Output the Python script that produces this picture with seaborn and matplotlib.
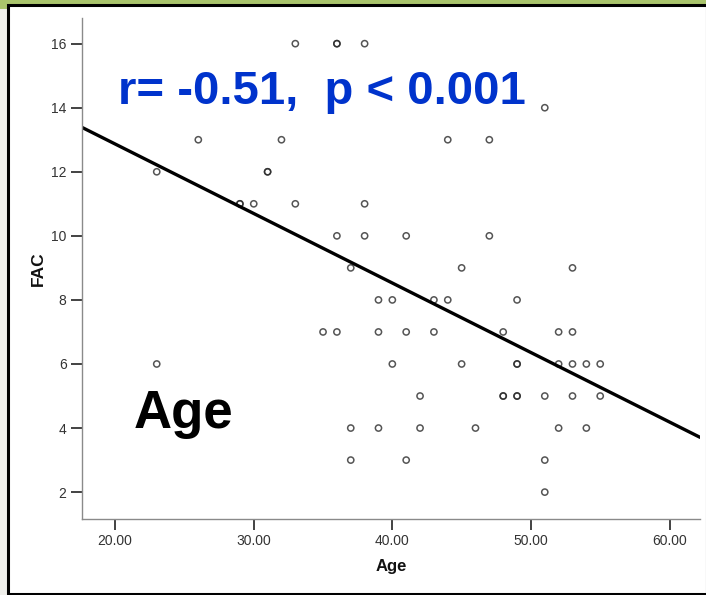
import numpy as np
import pandas as pd
import matplotlib
matplotlib.use("Agg")
import matplotlib.pyplot as plt
from matplotlib.patches import Rectangle
import seaborn as sns

# Age / FAC pairs (rows grouped by FAC value)
age = [33, 36, 36, 38,
       51,
       26, 32, 44, 47,
       23, 31, 31,
       29, 29, 30, 33, 38,
       36, 38, 41, 47,
       37, 45, 53,
       39, 40, 43, 44, 49,
       35, 36, 39, 41, 43, 48, 52, 53,
       23, 40, 45, 49, 49, 52, 53, 54, 55,
       42, 48, 48, 49, 49, 51, 53, 55,
       37, 39, 42, 46, 52, 54,
       37, 41, 51,
       51]
fac = [16, 16, 16, 16,
       14,
       13, 13, 13, 13,
       12, 12, 12,
       11, 11, 11, 11, 11,
       10, 10, 10, 10,
       9, 9, 9,
       8, 8, 8, 8, 8,
       7, 7, 7, 7, 7, 7, 7, 7,
       6, 6, 6, 6, 6, 6, 6, 6, 6,
       5, 5, 5, 5, 5, 5, 5, 5,
       4, 4, 4, 4, 4, 4,
       3, 3, 3,
       2]
x_ticks = [20, 30, 40, 50, 60]
y_ticks = [2, 4, 6, 8, 10, 12, 14, 16]
stat_text = "r= -0.51,  p < 0.001"

df = pd.DataFrame({"Age": age, "FAC": fac})

sns.set_style("white")
plt.rcParams["font.family"] = ["Liberation Sans", "DejaVu Sans"]

fig = plt.figure(figsize=(7.06, 5.95), dpi=100)

# slide decoration: green band on top, grey margin left, black frame
fig.patches.append(Rectangle((0, 0), 1, 1, transform=fig.transFigure,
                             facecolor="#efefeb", edgecolor="none", zorder=-3))
fig.patches.append(Rectangle((0, 0.985), 1, 0.015, transform=fig.transFigure,
                             facecolor="#a9c46c", edgecolor="none", zorder=-2))
fig.patches.append(Rectangle((0.0113, 0.0025), 0.99, 0.9885, transform=fig.transFigure,
                             facecolor="white", edgecolor="black", linewidth=2.2, zorder=-1))

ax = fig.add_axes([0.116, 0.1277, 0.8755, 0.842])
ax.patch.set_alpha(0)
# limits first so the fitted line runs across the whole axis
ax.set_xlim(17.6, 62.2)
ax.set_ylim(1.16, 16.8)

sns.regplot(data=df, x="Age", y="FAC", ax=ax, ci=None, truncate=False,
            scatter_kws=dict(s=20, facecolors="none", edgecolors="#2a2a2a", linewidths=1.1),
            line_kws=dict(color="black", linewidth=2.4))

ax.set_xlim(17.6, 62.2)
ax.set_ylim(1.16, 16.8)
ax.set_xticks(x_ticks)
ax.set_xticklabels([f"{v:.2f}" for v in x_ticks])
ax.set_yticks(y_ticks)

for side in ["top", "right"]:
    ax.spines[side].set_visible(False)
for side in ["left", "bottom"]:
    ax.spines[side].set_color("#8a8a8a")
    ax.spines[side].set_linewidth(1.0)

ax.tick_params(axis="both", which="major", direction="out", length=8, width=1.2,
               color="#222222", labelcolor="#333333", labelsize=10, pad=3,
               left=True, bottom=True)

ax.set_xlabel("Age", fontsize=12, fontweight="bold", color="#111111", labelpad=8)
ax.set_ylabel("FAC", fontsize=12.5, fontweight="bold", color="#111111", labelpad=4)

ax.text(0.059, 0.852, stat_text, transform=ax.transAxes, color="#0033cc",
        fontsize=34, fontweight="bold", ha="left", va="center")
ax.text(0.084, 0.21, "Age", transform=ax.transAxes, color="black",
        fontsize=38, fontweight="bold", ha="left", va="center")

fig.savefig("out.png", dpi=100)
